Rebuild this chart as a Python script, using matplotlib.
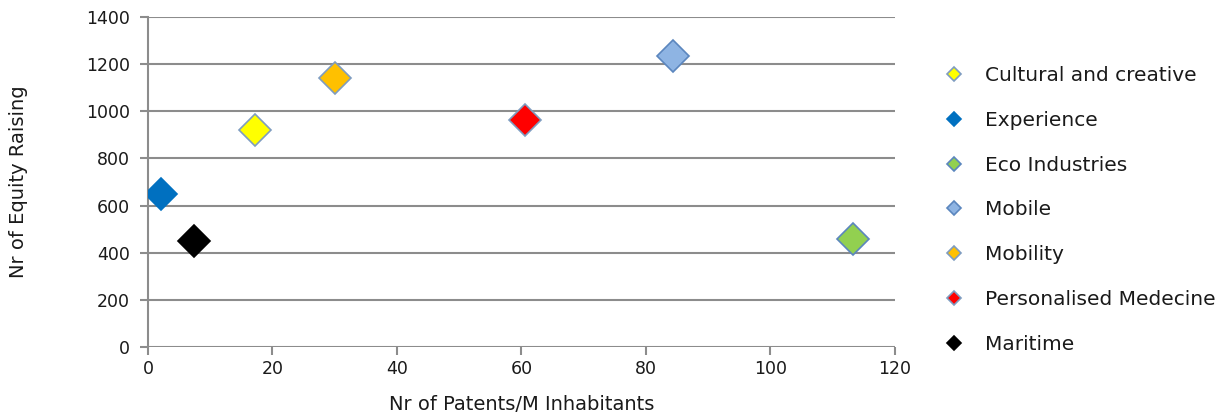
import matplotlib
matplotlib.use("Agg")
import matplotlib.pyplot as plt

# values
sectors = ["Cultural and creative", "Experience", "Eco Industries", "Mobile",
           "Mobility", "Personalised Medecine", "Maritime"]
patents = [17.2, 2.1, 113.3, 84.3, 30.1, 60.6, 7.4]
equity = [921, 648, 456, 1237, 1141, 963, 449]
colors = ["#FFFF00", "#0070C0", "#92D050", "#8EB4E3", "#FFC000", "#FF0000", "#000000"]
edges = ["#7F9CC0", "#0070C0", "#5B86BE", "#5B86BE", "#7F9CC0", "#7F9CC0", "#000000"]

plt.rcParams['font.family'] = ['DejaVu Sans']

fig = plt.figure(figsize=(12.25, 4.17), dpi=100)
ax = fig.add_axes([0.1208, 0.1686, 0.6098, 0.79])

for name, x, y, c, e in zip(sectors, patents, equity, colors, edges):
    ax.plot([x], [y], linestyle="none", marker="D", markersize=16,
            markerfacecolor=c, markeredgecolor=e, markeredgewidth=1.2,
            label=name, zorder=3)

ax.set_xlim(0, 120)
ax.set_ylim(0, 1400)
ax.set_xticks(range(0, 121, 20))
ax.set_yticks(range(0, 1401, 200))
ax.grid(axis="y", color="#8C8C8C", linewidth=1.5)
ax.set_axisbelow(True)
for s in ["top", "right", "bottom"]:
    ax.spines[s].set_visible(False)
ax.spines["left"].set_color("#8C8C8C")
ax.spines["left"].set_linewidth(1.5)
ax.tick_params(axis="both", colors="#8C8C8C", labelcolor="#1a1a1a",
               labelsize=12.5, length=6, width=1.5)
ax.tick_params(axis="y", pad=7)

ax.set_xlabel("Nr of Patents/M Inhabitants", fontsize=14, color="#1a1a1a", labelpad=12)
ax.set_ylabel("Nr of Equity Raising", fontsize=14, color="#1a1a1a", labelpad=42)

leg = fig.legend(loc="upper left", bbox_to_anchor=(0.756, 0.885), frameon=False,
                 fontsize=14.5, labelspacing=1.28, handlelength=1.0,
                 handletextpad=1.0, markerscale=0.45)
for t in leg.get_texts():
    t.set_color("#1a1a1a")

fig.savefig("out.png", dpi=100)
